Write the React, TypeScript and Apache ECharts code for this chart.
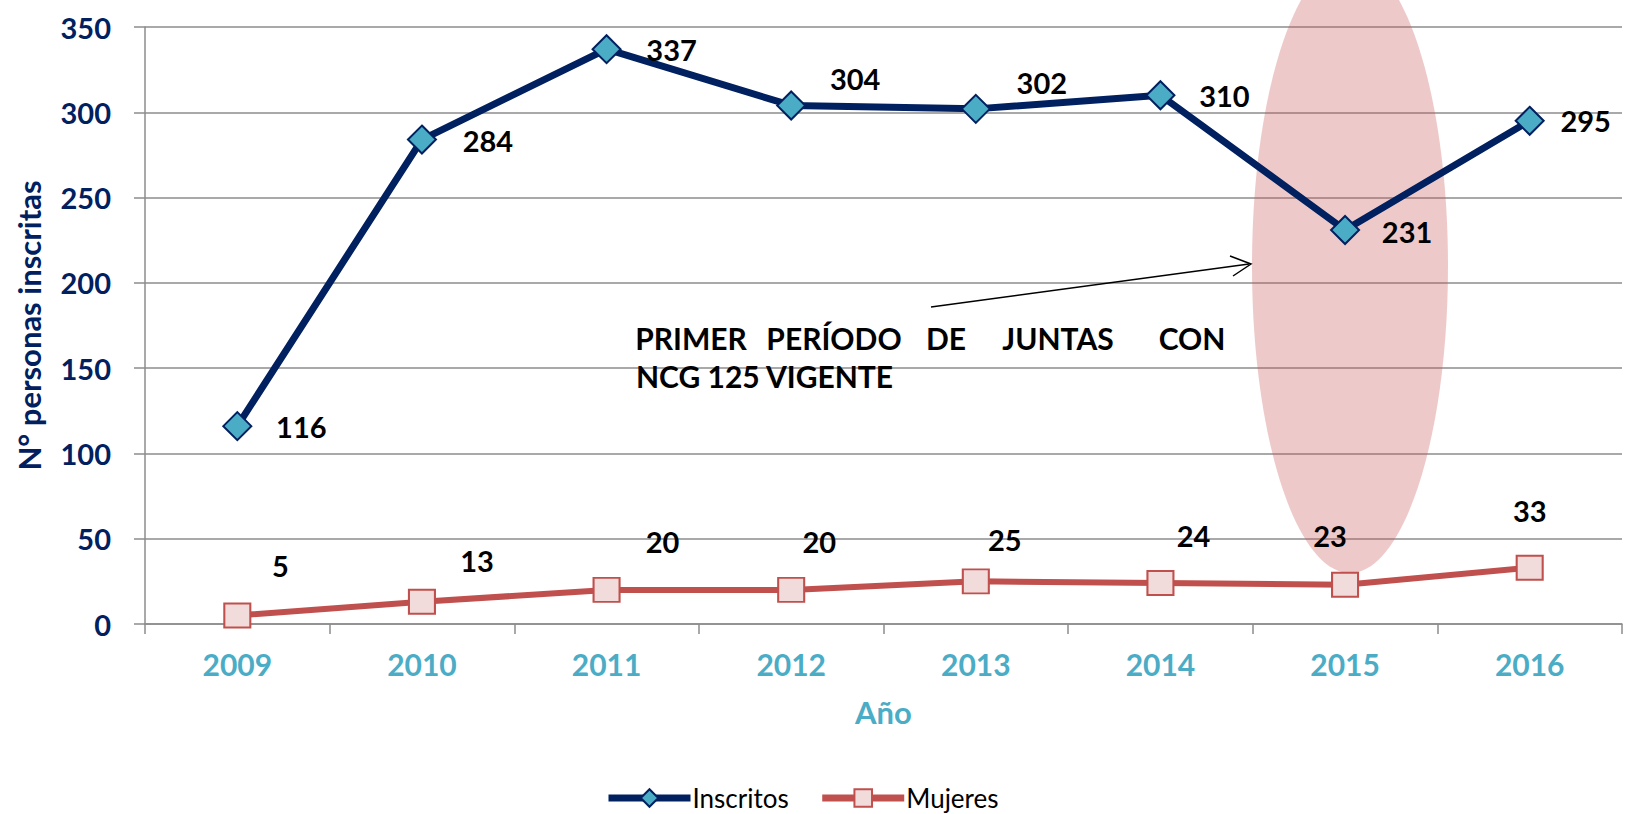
import React, { useEffect, useRef } from "react";
import * as echarts from "echarts";

const years = ["2009", "2010", "2011", "2012", "2013", "2014", "2015", "2016"];
const inscritos = [116, 284, 337, 304, 302, 310, 231, 295];
const mujeres = [5, 13, 20, 20, 25, 24, 23, 33];
const yTicks = { min: 0, max: 350, interval: 50 };

// label offsets (pixel nudges of the value labels relative to each point)
const inscritosLabelOffsets = [[64, 0], [66, 1], [65, 0], [64, -27], [66, -26], [64, 0], [62, 2], [56, 0]];
const mujeresLabelOffsets = [[43, -50], [55, -41], [56, -48], [28, -48], [29, -42], [33, -48], [-15, -49], [0, -57]];

const NAVY = "#002060";
const TEAL = "#4BACC6";
const RED = "#C0504D";
const PINK = "#F2DCDB";
const FONT = "Lato, 'Open Sans', sans-serif";

// annotation words, centred where the reference places them (justified line)
const annotationLine1 = [
  { t: "PRIMER", x: 691 },
  { t: "PERÍODO", x: 834 },
  { t: "DE", x: 946 },
  { t: "JUNTAS", x: 1058 },
  { t: "CON", x: 1192 },
];

export default function App() {
  const ref = useRef<HTMLDivElement>(null);
  useEffect(() => {
    if (!ref.current) return;
    const chart = echarts.init(ref.current, undefined, { renderer: "svg" });
    const labelStyle = {
      show: true,
      position: "inside",
      color: "#000",
      fontFamily: FONT,
      fontWeight: "bold",
      fontSize: 29,
      align: "center",
      verticalAlign: "middle",
    };
    chart.setOption({
      animation: false,
      backgroundColor: "#fff",
      grid: { left: 145, right: 3, top: 27, bottom: 190, containLabel: false },
      legend: {
        left: 600,
        top: 779,
        itemWidth: 82,
        itemHeight: 22,
        itemGap: 30,
        lineStyle: { width: 7 },
        textStyle: { fontFamily: FONT, fontSize: 26, lineHeight: 28, color: "#000", padding: [0, 0, 0, -3] },
        data: ["Inscritos", "Mujeres"],
      },
      xAxis: {
        type: "category",
        data: years,
        boundaryGap: true,
        name: "Año",
        nameLocation: "middle",
        nameGap: 72,
        nameTextStyle: { color: TEAL, fontFamily: FONT, fontWeight: "bold", fontSize: 31, verticalAlign: "top" },
        axisLine: { show: true, lineStyle: { color: "#8c8c8c", width: 1.5 } },
        axisTick: { show: true, alignWithLabel: false, length: 10, lineStyle: { color: "#8c8c8c", width: 1.5 } },
        axisLabel: { color: TEAL, fontFamily: FONT, fontWeight: "bold", fontSize: 30, margin: 25 },
        splitLine: { show: false },
      },
      yAxis: {
        type: "value",
        min: yTicks.min,
        max: yTicks.max,
        interval: yTicks.interval,
        name: "N° personas inscritas",
        nameLocation: "middle",
        nameGap: 101,
        nameTextStyle: { color: NAVY, fontFamily: FONT, fontWeight: "bold", fontSize: 31 },
        axisLine: { show: true, lineStyle: { color: "#8c8c8c", width: 1.5 } },
        axisTick: { show: true, length: 11, lineStyle: { color: "#8c8c8c", width: 1.5 } },
        axisLabel: { color: NAVY, fontFamily: FONT, fontWeight: "bold", fontSize: 29, margin: 34 },
        splitLine: { show: true, lineStyle: { color: "#8c8c8c", width: 1.5 } },
      },
      graphic: {
        elements: [
          {
            type: "ellipse",
            z: 1,
            shape: { cx: 1350, cy: 266, rx: 98, ry: 307 },
            style: { fill: "rgba(200, 90, 88, 0.32)" },
          },
          {
            type: "line",
            z: 3,
            shape: { x1: 931, y1: 307, x2: 1249, y2: 264 },
            style: { stroke: "#000", lineWidth: 1.5 },
          },
          {
            type: "polyline",
            z: 3,
            shape: { points: [[1230, 256], [1251, 264], [1233, 276]] },
            style: { stroke: "#000", lineWidth: 1.5, fill: "none" },
          },
          ...annotationLine1.map((w) => ({
            type: "text",
            z: 3,
            x: w.x,
            y: 338,
            style: {
              text: w.t,
              fill: "#000",
              font: `bold 30px ${FONT}`,
              textAlign: "center",
              textVerticalAlign: "middle",
            },
          })),
          {
            type: "text",
            z: 3,
            x: 636,
            y: 376,
            style: {
              text: "NCG 125 VIGENTE",
              fill: "#000",
              font: `bold 30px ${FONT}`,
              textAlign: "left",
              textVerticalAlign: "middle",
            },
          },
        ],
      },
      series: [
        {
          name: "Inscritos",
          type: "line",
          z: 3,
          data: inscritos.map((v, i) => ({ value: v, label: { offset: inscritosLabelOffsets[i] } })),
          symbol: "diamond",
          symbolSize: 28,
          lineStyle: { color: NAVY, width: 7 },
          itemStyle: { color: TEAL, borderColor: NAVY, borderWidth: 2 },
          label: labelStyle,
        },
        {
          name: "Mujeres",
          type: "line",
          z: 3,
          data: mujeres.map((v, i) => ({ value: v, label: { offset: mujeresLabelOffsets[i] } })),
          symbol: "rect",
          symbolSize: [26, 24],
          lineStyle: { color: RED, width: 6 },
          itemStyle: { color: PINK, borderColor: RED, borderWidth: 2 },
          label: labelStyle,
        },
      ],
    });
    return () => chart.dispose();
  }, []);
  return (
    <div
      ref={ref}
      style={{ position: "fixed", left: 0, top: 0, width: 1625, height: 814 }}
    />
  );
}
